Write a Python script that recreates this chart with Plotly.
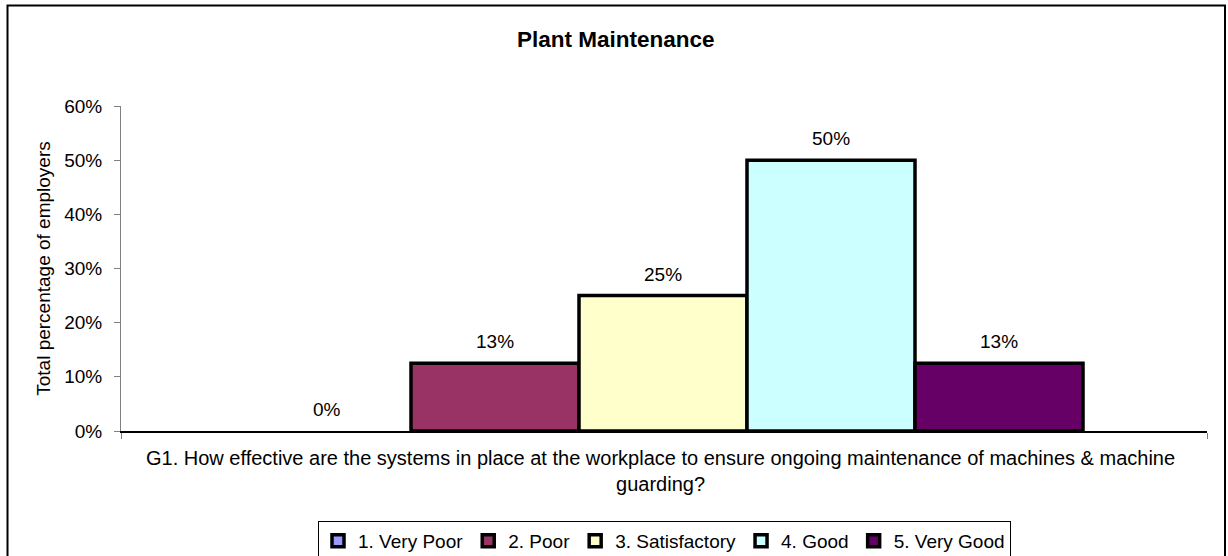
import plotly.graph_objects as go

# ---- data ----
categories = ["1. Very Poor", "2. Poor", "3. Satisfactory", "4. Good", "5. Very Good"]
values = [0.0, 0.125, 0.25, 0.50, 0.125]
labels = ["0%", "13%", "25%", "50%", "13%"]
colors = ["#9999FF", "#993366", "#FFFFCC", "#CCFFFF", "#660066"]
y_ticks = [0, 0.1, 0.2, 0.3, 0.4, 0.5, 0.6]
y_ticklabels = ["0%", "10%", "20%", "30%", "40%", "50%", "60%"]
title = "Plant Maintenance"
x_title = ("G1. How effective are the systems in place at the workplace to ensure ongoing maintenance of machines & machine"
           "<br>guarding?")
y_title = "Total percentage of employers"

FONT = "Liberation Sans, Arial, sans-serif"
NARROW = "Liberation Sans Narrow, Arial Narrow, Liberation Sans, sans-serif"
FS = 19

W, H = 1228, 556
L, R, T, B = 121, 21, 106, 125
pw = W - L - R
ph = H - T - B

bar_px = 168.0
center_px = 663.0
center = (len(categories) - 1) / 2.0
x_left = center - (center_px - L) / bar_px
x_range = [x_left, x_left + pw / bar_px]

LINE = dict(color="#000000", width=3.5)

fig = go.Figure()
for i, (c, v, col) in enumerate(zip(categories, values, colors)):
    if v == 0:
        # zero-height bar: nothing visible in the plot, but keep the legend entry
        fig.add_trace(go.Bar(x=[i], y=[v], width=[1.0], name=c, showlegend=False, legendgroup=c,
                             marker=dict(color=col, line=dict(color="#000000", width=0)),
                             hoverinfo="name+y"))
        fig.add_trace(go.Bar(x=[None], y=[None], name=c, legendgroup=c,
                             marker=dict(color=col, line=LINE), hoverinfo="skip"))
    else:
        fig.add_trace(go.Bar(x=[i], y=[v], width=[1.0], name=c, legendgroup=c,
                             marker=dict(color=col, line=LINE), hoverinfo="name+y"))

for i, (v, t) in enumerate(zip(values, labels)):
    fig.add_annotation(x=i, y=v, text=t, showarrow=False, yanchor="bottom",
                       yshift=9, font=dict(family=NARROW, size=FS, color="#000000"))

def px_to_paper_x(px):
    return (px - L) / pw

def px_to_paper_y(py):
    return (H - B - py) / ph

# x-axis title
fig.add_annotation(xref="paper", yref="paper", x=px_to_paper_x(660), y=px_to_paper_y(445),
                   text=x_title, showarrow=False, xanchor="center", yanchor="top",
                   font=dict(family=FONT, size=20, color="#000000"), align="center")

# chart title
fig.add_annotation(xref="paper", yref="paper", x=px_to_paper_x(616), y=px_to_paper_y(40),
                   text="<b>" + title + "</b>", showarrow=False, xanchor="center", yanchor="middle",
                   font=dict(family=FONT, size=22.5, color="#000000"))

# outer chart border
fig.add_shape(type="rect", xref="paper", yref="paper",
              x0=px_to_paper_x(7.5), x1=px_to_paper_x(1225), y0=px_to_paper_y(575), y1=px_to_paper_y(5.5),
              line=dict(color="#000000", width=2), fillcolor="rgba(0,0,0,0)", layer="below")

fig.update_layout(
    width=W, height=H,
    margin=dict(l=L, r=R, t=T, b=B, autoexpand=False),
    paper_bgcolor="#FFFFFF", plot_bgcolor="#FFFFFF",
    barmode="overlay",
    font=dict(family=FONT, size=FS, color="#000000"),
    showlegend=True,
    legend=dict(orientation="h", x=px_to_paper_x(664.5), xanchor="center", y=px_to_paper_y(521), yanchor="top",
                bordercolor="#000000", borderwidth=1, bgcolor="#FFFFFF",
                font=dict(family=FONT, size=FS, color="#000000"),
                itemwidth=30, tracegroupgap=0, itemclick=False, itemdoubleclick=False),
    xaxis=dict(range=x_range, showgrid=False, zeroline=False, showline=True,
               linecolor="#000000", linewidth=1.5,
               tickmode="array", tickvals=[x_range[0], x_range[1]], ticktext=["", ""],
               ticks="outside", ticklen=6, tickcolor="#808080", fixedrange=True),
    yaxis=dict(range=[0, 0.6], showgrid=False, zeroline=False, showline=True,
               linecolor="#808080", linewidth=1,
               tickmode="array", tickvals=y_ticks, ticktext=y_ticklabels,
               ticks="outside", ticklen=6, tickcolor="#808080", ticklabelstandoff=8,
               tickfont=dict(family=FONT, size=FS, color="#000000"),
               title=dict(text=y_title, font=dict(family=FONT, size=FS, color="#000000"), standoff=8),
               fixedrange=True),
)

fig.write_html("out.html", config={"displayModeBar": False},
               post_script="document.body.style.margin='0';document.body.style.overflow='hidden';")
